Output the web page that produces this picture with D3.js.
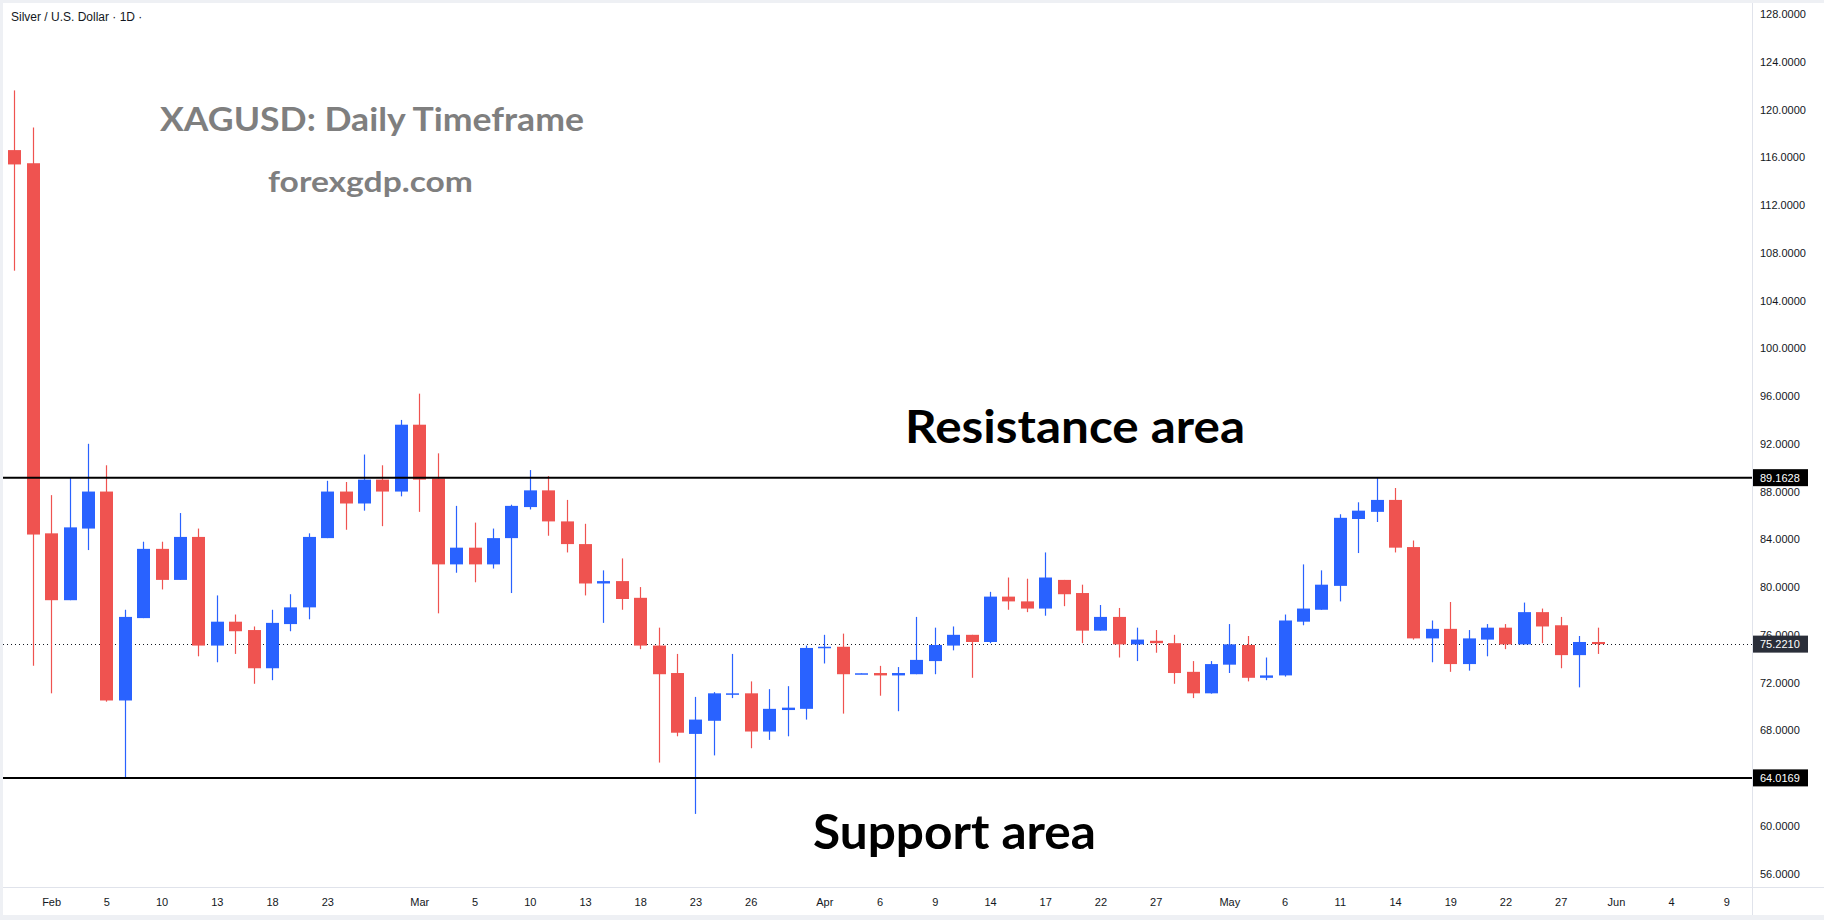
<!DOCTYPE html>
<html>
<head>
<meta charset="utf-8">
<script src="https://cdn.jsdelivr.net/npm/d3@7"></script>
<style>
  body { margin: 0; background: #fff; }
  svg { display: block; }
</style>
</head>
<body>
<div id="chart"></div>
<script>
// daily candles, Jan 29 -> May 29 (weekdays only)
const dates = [
  "01-29","01-30",
  "02-02","02-03","02-04","02-05","02-06","02-09","02-10","02-11","02-12","02-13",
  "02-16","02-17","02-18","02-19","02-20","02-23","02-24","02-25","02-26","02-27",
  "03-02","03-03","03-04","03-05","03-06","03-09","03-10","03-11","03-12","03-13",
  "03-16","03-17","03-18","03-19","03-20","03-23","03-24","03-25","03-26","03-27","03-30","03-31",
  "04-01","04-02","04-03","04-06","04-07","04-08","04-09","04-10","04-13","04-14","04-15","04-16","04-17",
  "04-20","04-21","04-22","04-23","04-24","04-27","04-28","04-29","04-30",
  "05-01","05-04","05-05","05-06","05-07","05-08","05-11","05-12","05-13","05-14","05-15",
  "05-18","05-19","05-20","05-21","05-22","05-25","05-26","05-27","05-28","05-29"
];
const open = [
  116.6, 115.5, 84.5, 78.9, 84.9, 88.0, 70.5, 77.4, 83.2, 80.6,
  84.2, 75.1, 77.1, 76.4, 73.2, 76.9, 78.3, 84.1, 88.0, 87.0,
  89.0, 88.0, 93.6, 89.1, 81.9, 83.3, 81.9, 84.1, 86.7, 88.1,
  85.5, 83.6, 80.3, 80.5, 79.1, 75.1, 72.8, 67.7, 68.8, 71.05,
  71.1, 67.9, 69.7, 69.8, 74.9, 75.0, 72.75, 72.8, 72.6, 72.7,
  73.8, 75.1, 76.0, 75.4, 79.2, 78.8, 78.2, 80.6, 79.5, 76.35,
  77.5, 75.2, 75.5, 75.3, 72.9, 71.1, 73.5, 75.15, 72.4, 72.6,
  77.1, 78.1, 80.1, 85.7, 86.3, 87.3, 83.35, 75.7, 76.5, 73.55,
  75.6, 76.6, 75.2, 77.9, 76.8, 74.3, 75.4
];
const high = [
  121.6, 118.5, 87.7, 89.2, 92.0, 90.2, 78.1, 83.8, 83.8, 86.2,
  84.9, 79.3, 77.7, 76.7, 78.1, 79.4, 84.5, 88.9, 88.8, 91.1,
  90.2, 94.0, 96.2, 91.2, 86.8, 85.4, 84.9, 86.9, 89.8, 89.3,
  87.3, 85.3, 81.4, 82.4, 80.0, 76.6, 74.4, 70.8, 71.2, 74.4,
  72.1, 71.45, 71.7, 75.1, 76.0, 76.1, 72.8, 73.4, 73.3, 77.5,
  76.6, 76.7, 76.0, 79.6, 80.8, 80.7, 82.9, 80.6, 80.2, 78.5,
  78.25, 76.6, 76.4, 76.0, 73.8, 73.8, 76.9, 75.9, 74.1, 77.7,
  81.9, 81.4, 86.1, 87.1, 89.2, 88.3, 83.9, 77.2, 78.75, 76.4,
  76.9, 76.9, 78.7, 78.2, 77.5, 75.9, 76.6
];
const low = [
  106.5, 73.4, 71.1, 78.9, 83.1, 70.4, 64.0, 77.4, 79.8, 80.6,
  74.2, 73.7, 74.4, 71.9, 72.2, 76.3, 77.3, 84.1, 84.8, 86.4,
  85.1, 87.6, 86.3, 77.8, 81.2, 80.4, 81.55, 79.5, 86.5, 84.3,
  82.9, 79.3, 77.0, 78.1, 74.8, 65.3, 67.5, 61.0, 65.9, 70.7,
  66.5, 67.2, 67.5, 68.9, 73.6, 69.4, 72.75, 70.9, 69.6, 72.7,
  72.7, 74.7, 72.4, 75.3, 78.1, 77.9, 77.6, 78.4, 75.3, 76.35,
  74.1, 73.8, 74.5, 71.9, 70.7, 71.07, 72.8, 72.1, 72.2, 72.5,
  76.8, 78.1, 78.8, 82.85, 85.45, 82.9, 75.6, 73.7, 72.9, 73.0,
  74.2, 74.8, 75.2, 75.3, 73.2, 71.6, 74.4
];
const close = [
  115.4, 84.4, 78.9, 85.0, 88.0, 70.5, 77.5, 83.2, 80.6, 84.2,
  75.1, 77.1, 76.3, 73.2, 77.0, 78.3, 84.2, 88.0, 87.0, 89.0,
  88.0, 93.6, 89.0, 81.9, 83.3, 81.9, 84.1, 86.8, 88.1, 85.5,
  83.6, 80.3, 80.5, 79.0, 75.1, 72.7, 67.8, 68.9, 71.1, 71.1,
  67.9, 69.8, 69.9, 74.9, 75.0, 72.7, 72.78, 72.6, 72.8, 73.9,
  75.15, 76.0, 75.4, 79.2, 78.8, 78.2, 80.8, 79.4, 76.35, 77.5,
  75.2, 75.6, 75.3, 72.8, 71.1, 73.55, 75.2, 72.4, 72.6, 77.2,
  78.2, 80.2, 85.8, 86.4, 87.3, 83.3, 75.7, 76.5, 73.55, 75.7,
  76.6, 75.2, 77.9, 76.7, 74.3, 75.4, 75.221
];

const priceTicks = [56, 60, 64, 68, 72, 76, 80, 84, 88, 92, 96, 100, 104, 108, 112, 116, 120, 124, 128];
// bar index of each time label (0 = Jan 29)
const timeTickIdx = [2, 5, 8, 11, 14, 17, 22, 25, 28, 31, 34, 37, 40, 44, 47, 50, 53, 56, 59, 62,
                     66, 69, 72, 75, 78, 81, 84, 87, 90, 93];
const timeTickLabels = ["Feb", "5", "10", "13", "18", "23", "Mar", "5", "10", "13", "18", "23", "26", "Apr", "6",
                        "9", "14", "17", "22", "27", "May", "6", "11", "14", "19", "22", "27", "Jun", "4", "9"];

const resistance = 89.1628;
const support = 64.0169;
const lastPrice = 75.2210;

const W = 1824, H = 920;
const paneRight = 1752, paneBottom = 887;
const UP = '#2962ff', DOWN = '#ef5350';
const axisFont = '"Liberation Sans", Arial, sans-serif';

const svg = d3.select('#chart').append('svg')
    .attr('width', W)
    .attr('height', H);

// light frame + white canvas
svg.append('rect').attr('width', W).attr('height', H).attr('fill', '#eef0f4');
svg.append('rect').attr('x', 3).attr('y', 3).attr('width', W - 3).attr('height', 912).attr('fill', '#fff');

const x = d3.scaleLinear().domain([0, 93]).range([14.3, 1726.4]);
const y = d3.scaleLinear().domain([56, 128]).range([873.6, 14]);

// pane separators
svg.append('line').attr('x1', paneRight + 0.5).attr('x2', paneRight + 0.5).attr('y1', 3).attr('y2', 915)
    .attr('stroke', '#e0e3eb');
svg.append('line').attr('x1', 3).attr('x2', W).attr('y1', paneBottom + 0.5).attr('y2', paneBottom + 0.5)
    .attr('stroke', '#e0e3eb');

// price axis
const yAxis = svg.append('g')
    .attr('transform', `translate(${paneRight},0)`)
    .call(d3.axisRight(y).tickValues(priceTicks).tickFormat(d => d.toFixed(4)).tickSize(0).tickPadding(8));
yAxis.select('.domain').remove();
yAxis.selectAll('text').attr('font-family', axisFont).attr('font-size', 11).attr('fill', '#131722');

// time axis
const xAxis = svg.append('g')
    .attr('transform', `translate(0,${paneBottom})`)
    .call(d3.axisBottom(x).tickValues(timeTickIdx).tickFormat((d, i) => timeTickLabels[i]).tickSize(0).tickPadding(11));
xAxis.select('.domain').remove();
xAxis.selectAll('text').attr('font-family', axisFont).attr('font-size', 11).attr('fill', '#131722');

// symbol header
svg.append('text')
    .attr('x', 11).attr('y', 17).attr('dy', '0.35em')
    .attr('font-family', axisFont).attr('font-size', 12).attr('fill', '#131722')
    .text('Silver / U.S. Dollar · 1D ·');

// last price dotted line
svg.append('line')
    .attr('x1', 3).attr('x2', paneRight)
    .attr('y1', Math.round(y(lastPrice)) + 0.5).attr('y2', Math.round(y(lastPrice)) + 0.5)
    .attr('stroke', '#131722').attr('stroke-width', 1).attr('stroke-dasharray', '1,3');

// candles
const candles = svg.append('g').selectAll('g')
    .data(d3.range(close.length))
    .join('g')
    .attr('fill', i => close[i] >= open[i] ? UP : DOWN)
    .attr('stroke', i => close[i] >= open[i] ? UP : DOWN);

candles.append('line')
    .attr('x1', i => Math.round(x(i)) + 0.5)
    .attr('x2', i => Math.round(x(i)) + 0.5)
    .attr('y1', i => y(high[i]))
    .attr('y2', i => y(low[i]))
    .attr('stroke-width', 1.2);

const bodyW = 13;
candles.append('rect')
    .attr('x', i => Math.round(x(i)) + 0.5 - bodyW / 2)
    .attr('width', bodyW)
    .attr('y', i => y(Math.max(open[i], close[i])))
    .attr('height', i => Math.max(1.5, Math.abs(y(open[i]) - y(close[i]))))
    .attr('stroke', 'none');

// support / resistance
[resistance, support].forEach(v => {
    svg.append('line')
        .attr('x1', 3).attr('x2', paneRight)
        .attr('y1', y(v)).attr('y2', y(v))
        .attr('stroke', '#000').attr('stroke-width', 2);
});

// price labels on the axis
[[resistance, '#000'], [support, '#000'], [lastPrice, '#2a2e39']].forEach(([v, c]) => {
    svg.append('rect')
        .attr('x', paneRight + 1).attr('y', y(v) - 8.5)
        .attr('width', 55).attr('height', 17)
        .attr('fill', c);
    svg.append('text')
        .attr('x', paneRight + 8).attr('y', y(v)).attr('dy', '0.35em')
        .attr('font-family', axisFont).attr('font-size', 11).attr('fill', '#fff')
        .text(v.toFixed(4));
});

// annotations
const noteFont = 'Lato, "Open Sans", sans-serif';
svg.append('text')
    .attr('x', 160).attr('y', 131)
    .attr('font-family', noteFont).attr('font-weight', 700).attr('font-size', 33)
    .attr('fill', '#7f7f7f')
    .attr('textLength', 424).attr('lengthAdjust', 'spacingAndGlyphs')
    .text('XAGUSD: Daily Timeframe');
svg.append('text')
    .attr('x', 268).attr('y', 192)
    .attr('font-family', noteFont).attr('font-weight', 700).attr('font-size', 29)
    .attr('fill', '#7f7f7f')
    .attr('textLength', 205).attr('lengthAdjust', 'spacingAndGlyphs')
    .text('forexgdp.com');
svg.append('text')
    .attr('x', 905).attr('y', 443)
    .attr('font-family', noteFont).attr('font-weight', 700).attr('font-size', 46)
    .attr('fill', '#000')
    .attr('textLength', 340).attr('lengthAdjust', 'spacingAndGlyphs')
    .text('Resistance area');
svg.append('text')
    .attr('x', 813).attr('y', 849)
    .attr('font-family', noteFont).attr('font-weight', 700).attr('font-size', 47)
    .attr('fill', '#000')
    .attr('textLength', 283).attr('lengthAdjust', 'spacingAndGlyphs')
    .text('Support area');
</script>
</body>
</html>
